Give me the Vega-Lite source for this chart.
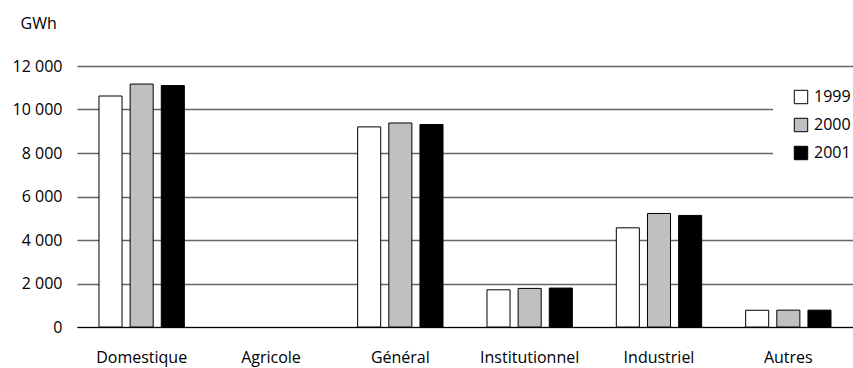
{
  "$schema": "https://vega.github.io/schema/vega-lite/v6.json",
  "width": 776,
  "height": 261,
  "autosize": {"type": "none"},
  "padding": {"left": 77, "top": 66, "right": 0, "bottom": 41},
  "background": "white",
  "config": {"font": "Open Sans", "view": {"stroke": null}},
  "data": {
    "values": [
      {"cat": "Domestique", "year": "1999", "gwh": 10620},
      {"cat": "Domestique", "year": "2000", "gwh": 11170},
      {"cat": "Domestique", "year": "2001", "gwh": 11100},
      {"cat": "Agricole", "year": "1999", "gwh": null},
      {"cat": "Agricole", "year": "2000", "gwh": null},
      {"cat": "Agricole", "year": "2001", "gwh": null},
      {"cat": "Général", "year": "1999", "gwh": 9200},
      {"cat": "Général", "year": "2000", "gwh": 9380},
      {"cat": "Général", "year": "2001", "gwh": 9310},
      {"cat": "Institutionnel", "year": "1999", "gwh": 1710},
      {"cat": "Institutionnel", "year": "2000", "gwh": 1775},
      {"cat": "Institutionnel", "year": "2001", "gwh": 1790},
      {"cat": "Industriel", "year": "1999", "gwh": 4560},
      {"cat": "Industriel", "year": "2000", "gwh": 5220},
      {"cat": "Industriel", "year": "2001", "gwh": 5130},
      {"cat": "Autres", "year": "1999", "gwh": 770},
      {"cat": "Autres", "year": "2000", "gwh": 775},
      {"cat": "Autres", "year": "2001", "gwh": 775}
    ]
  },
  "mark": {"type": "bar", "stroke": "black", "strokeWidth": 1},
  "encoding": {
    "x": {
      "field": "cat",
      "type": "nominal",
      "sort": ["Domestique", "Agricole", "Général", "Institutionnel", "Industriel", "Autres"],
      "scale": {"domain": ["Domestique", "Agricole", "Général", "Institutionnel", "Industriel", "Autres"], "paddingInner": 0.34, "paddingOuter": 0.17},
      "axis": {
        "title": null,
        "labelAngle": 0,
        "ticks": false,
        "domainColor": "black",
        "domainWidth": 1.2,
        "labelFontSize": 16,
        "labelColor": "black",
        "labelPadding": 22
      }
    },
    "xOffset": {
      "field": "year",
      "type": "nominal",
      "scale": {"domain": ["1999", "2000", "2001"], "paddingInner": 0.26}
    },
    "y": {
      "field": "gwh",
      "type": "quantitative",
      "scale": {"domain": [0, 12000], "nice": false},
      "axis": {
        "values": [0, 2000, 4000, 6000, 8000, 10000, 12000],
        "labelExpr": "replace(format(datum.value, ','), ',', ' ')",
        "domain": false,
        "ticks": false,
        "gridColor": "#666666",
        "gridWidth": 1.3,
        "labelFontSize": 16,
        "labelColor": "black",
        "labelPadding": 15,
        "title": "GWh",
        "titleAngle": 0,
        "titleX": -57,
        "titleY": -43,
        "titleAlign": "left",
        "titleBaseline": "middle",
        "titleFontSize": 16,
        "titleFontWeight": "normal",
        "titleColor": "black"
      }
    },
    "fill": {
      "field": "year",
      "type": "nominal",
      "scale": {"domain": ["1999", "2000", "2001"], "range": ["white", "#c0c0c0", "black"]},
      "legend": {
        "title": null,
        "orient": "none",
        "legendX": 696,
        "legendY": 3,
        "fillColor": "white",
        "padding": 20,
        "symbolType": "square",
        "symbolSize": 180,
        "symbolStrokeColor": "black",
        "symbolStrokeWidth": 1,
        "symbolOpacity": 1,
        "labelFontSize": 16,
        "labelColor": "black",
        "labelOffset": 5,
        "rowPadding": 10
      }
    }
  }
}
